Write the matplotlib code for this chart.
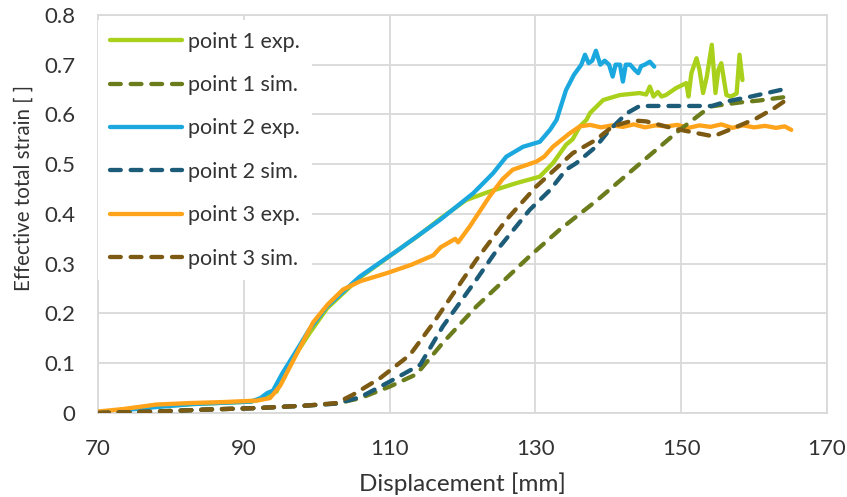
import matplotlib
matplotlib.use("Agg")
import matplotlib.pyplot as plt

plt.rcParams['font.family'] = ['Lato', 'DejaVu Sans']

# ---- data ----
p1_exp_x = [73, 78, 83, 88, 91, 92.5, 93.5, 94.5, 95.5, 97, 99, 101.4, 105.9, 111.4, 114, 116.9, 120.5, 123.7, 127.4,
            130.6, 132.4, 134.2, 135.1, 136.1, 137.0, 137.5, 139.3, 141.6, 144.3, 145.2, 145.7, 146.2, 146.8, 147.3,
            147.9, 149.3, 150.7, 151.0, 151.4, 152.1, 152.5, 153.0, 153.5, 154.2, 154.7, 155.1, 155.5, 156.2, 156.8,
            157.6, 158.0, 158.4]
p1_exp_y = [0.006, 0.013, 0.018, 0.021, 0.023, 0.028, 0.036, 0.043, 0.075, 0.115, 0.16, 0.21, 0.272, 0.33, 0.357,
            0.39, 0.428, 0.445, 0.462, 0.475, 0.502, 0.539, 0.55, 0.576, 0.589, 0.603, 0.629, 0.639, 0.643, 0.640,
            0.656, 0.636, 0.645, 0.636, 0.639, 0.653, 0.663, 0.636, 0.683, 0.713, 0.690, 0.643, 0.675, 0.740, 0.643,
            0.690, 0.703, 0.639, 0.636, 0.642, 0.720, 0.669]

p1_sim_x = [70, 78, 85, 92, 98.6, 102.7, 106, 110, 113.7, 117.3, 121.9, 129.2, 133.3, 138.5, 145.2, 149.8, 154.0,
            158.0, 160.7, 164.8]
p1_sim_y = [0.0, 0.003, 0.007, 0.010, 0.015, 0.019, 0.030, 0.053, 0.078, 0.141, 0.214, 0.315, 0.368, 0.428, 0.512,
            0.569, 0.616, 0.624, 0.628, 0.636]

p2_exp_x = [73, 78, 83, 88, 91, 92.3, 93.2, 94.0, 95.3, 97, 99, 101.4, 105.9, 111.4, 116.9, 121.5, 124.2, 126.0,
            128.3, 130.6, 132.0, 132.9, 134.2, 135.3, 136.3, 136.8, 137.3, 137.8, 138.3, 138.9, 139.5, 140.1, 140.6,
            141.0, 141.6, 142.0, 142.4, 143.0, 143.6, 144.1, 144.5, 145.0, 145.7, 146.3]
p2_exp_y = [0.005, 0.012, 0.018, 0.021, 0.023, 0.03, 0.04, 0.045, 0.08, 0.12, 0.168, 0.214, 0.274, 0.33, 0.388,
            0.442, 0.482, 0.515, 0.535, 0.545, 0.569, 0.589, 0.649, 0.68, 0.70, 0.72, 0.703, 0.708, 0.728, 0.70,
            0.708, 0.70, 0.676, 0.70, 0.70, 0.666, 0.70, 0.70, 0.69, 0.683, 0.697, 0.700, 0.706, 0.696]

p2_sim_x = [70, 78, 85, 92, 98.6, 102.7, 106, 110, 114.2, 117.3, 121.9, 124.5, 129.2, 132.0, 134.2, 135.6, 138.3,
            140.0, 142.5, 144.3, 154.2, 156.2, 159.6, 164.8]
p2_sim_y = [0.0, 0.003, 0.007, 0.010, 0.015, 0.019, 0.032, 0.063, 0.097, 0.174, 0.268, 0.323, 0.408, 0.448, 0.489,
            0.502, 0.535, 0.566, 0.602, 0.617, 0.617, 0.626, 0.636, 0.653]

p3_exp_x = [70, 73.5, 78, 82.6, 87.2, 91.8, 93.6, 95.0, 96.3, 98, 99.5, 101.5, 103.6, 106, 109.6, 113, 116.0,
            117.0, 119.0, 119.4, 121.0, 123.7, 125.5, 126.9, 128.5, 130.1, 131.2, 132.4, 134.7, 136.1, 137.5, 139,
            140.5, 142, 143.5, 145, 146.5, 148, 149.5, 151, 152.5, 154, 155.5, 157, 158.5, 160, 161.5, 163, 164.2,
            165.1]
p3_exp_y = [0.003, 0.008, 0.017, 0.020, 0.022, 0.025, 0.030, 0.055, 0.092, 0.14, 0.182, 0.218, 0.248, 0.265, 0.281,
            0.298, 0.317, 0.333, 0.350, 0.343, 0.375, 0.435, 0.470, 0.489, 0.497, 0.505, 0.515, 0.535, 0.562, 0.576,
            0.579, 0.574, 0.578, 0.575, 0.580, 0.574, 0.578, 0.576, 0.579, 0.573, 0.578, 0.575, 0.580, 0.573, 0.578,
            0.574, 0.577, 0.573, 0.576, 0.569]

p3_sim_x = [70, 78, 85, 92, 98.6, 102.7, 105.0, 108.7, 112.8, 116.0, 121.9, 126.0, 130.1, 135.1, 138.3, 140.6,
            143.4, 145.2, 148.9, 152.3, 154.4, 157.1, 160.3, 162.8, 164.8]
p3_sim_y = [0.0, 0.003, 0.007, 0.010, 0.015, 0.020, 0.037, 0.070, 0.117, 0.181, 0.308, 0.388, 0.455, 0.522, 0.549,
            0.576, 0.588, 0.586, 0.572, 0.562, 0.556, 0.572, 0.592, 0.613, 0.633]

x_ticks = [70, 90, 110, 130, 150, 170]
y_ticks = [0, 0.1, 0.2, 0.3, 0.4, 0.5, 0.6, 0.7, 0.8]
y_tick_labels = ['0', '0.1', '0.2', '0.3', '0.4', '0.5', '0.6', '0.7', '0.8']

labels = ['point 1 exp.', 'point 1 sim.', 'point 2 exp.', 'point 2 sim.', 'point 3 exp.', 'point 3 sim.']
colors = ['#a9d01a', '#6b7c1c', '#1aa8df', '#1c5c78', '#ffa31a', '#7d5a14']

# ---- figure ----
fig = plt.figure(figsize=(8.47, 4.97), dpi=100)
ax = fig.add_axes([0.1157, 0.169, 0.8607, 0.801])

series = [(p1_exp_x, p1_exp_y, '-'), (p1_sim_x, p1_sim_y, '--'),
          (p2_exp_x, p2_exp_y, '-'), (p2_sim_x, p2_sim_y, '--'),
          (p3_exp_x, p3_exp_y, '-'), (p3_sim_x, p3_sim_y, '--')]
order = [0, 2, 4, 1, 3, 5]
handles = [None] * 6
for i in order:
    xs, ys, ls = series[i]
    if ls == '-':
        h, = ax.plot(xs, ys, color=colors[i], lw=3.1, solid_joinstyle='round', solid_capstyle='round', zorder=3)
    else:
        h, = ax.plot(xs, ys, color=colors[i], lw=3.1, linestyle=(0, (2.5, 2.3)),
                     dash_capstyle='round', zorder=3)
    h.set_label(labels[i])
    handles[i] = h

ax.set_xlim(70, 170)
ax.set_ylim(0, 0.8)
ax.set_xticks(x_ticks)
ax.set_yticks(y_ticks)
ax.set_yticklabels(y_tick_labels)
ax.grid(True, color='#d9d9d9', lw=1.3, zorder=0)
ax.set_axisbelow(True)
for s in ax.spines.values():
    s.set_color('#d9d9d9')
    s.set_linewidth(1.3)
ax.tick_params(length=0, labelsize=16, colors='#333333')
ax.tick_params(axis='y', pad=16.5)
ax.tick_params(axis='x', pad=19)

ax.set_xlabel('Displacement [mm]', fontsize=17.5, color='#333333')
ax.xaxis.set_label_coords(0.5, -0.148)
ax.set_ylabel('Effective total strain [ ]', fontsize=14.8, color='#333333')
ax.yaxis.set_label_coords(-0.088, 0.565)

leg = ax.legend(handles=handles, loc='upper left', bbox_to_anchor=(0.0, 0.9875), frameon=True,
                facecolor='white', edgecolor='none', framealpha=1.0, fontsize=15.5,
                handlelength=3.35, handletextpad=0.3, labelspacing=1.085, borderpad=0.55,
                borderaxespad=0.0, fancybox=False)
leg.set_zorder(5)
for t in leg.get_texts():
    t.set_color('#333333')

fig.savefig('out.png', dpi=100)
